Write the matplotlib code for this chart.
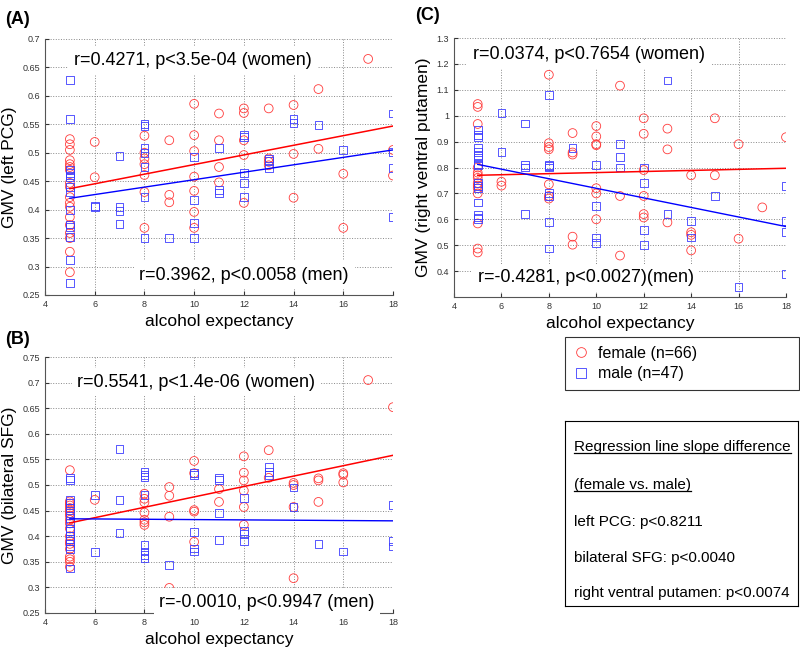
import numpy as np
import matplotlib
matplotlib.use("Agg")
import matplotlib.pyplot as plt
from matplotlib.lines import Line2D
from matplotlib.ticker import FormatStrFormatter

plt.rcParams['font.family'] = ['Liberation Sans', 'DejaVu Sans']

# GMV values grouped by alcohol expectancy score
a_female = {5: [0.524, 0.515, 0.505, 0.487, 0.48, 0.475, 0.47, 0.447, 0.44, 0.422, 0.412, 0.405,
                0.387, 0.373, 0.359, 0.35, 0.326, 0.29],
            6: [0.519, 0.457],
            8: [0.53, 0.5, 0.49, 0.48, 0.461, 0.431, 0.368],
            9: [0.522, 0.426, 0.413],
            10: [0.586, 0.531, 0.503, 0.458, 0.433, 0.396, 0.368],
            11: [0.569, 0.522, 0.475, 0.448],
            12: [0.578, 0.57, 0.522, 0.496, 0.412],
            13: [0.578, 0.49, 0.484, 0.478],
            14: [0.584, 0.498, 0.421],
            15: [0.612, 0.507],
            16: [0.463, 0.368],
            17: [0.665],
            18: [0.505, 0.46]}
a_male = {5: [0.628, 0.559, 0.47, 0.465, 0.46, 0.457, 0.44, 0.431, 0.40, 0.374, 0.37, 0.352, 0.312, 0.271],
          6: [0.407, 0.405],
          7: [0.494, 0.405, 0.398, 0.375],
          8: [0.55, 0.547, 0.508, 0.5, 0.475, 0.423, 0.35],
          9: [0.35],
          10: [0.493, 0.417, 0.376, 0.35],
          11: [0.508, 0.434, 0.429],
          12: [0.531, 0.527, 0.465, 0.447, 0.422],
          13: [0.49, 0.486, 0.473],
          14: [0.559, 0.552],
          15: [0.549],
          16: [0.505],
          18: [0.569, 0.502, 0.473, 0.387]}

b_female = {5: [0.529, 0.468, 0.464, 0.46, 0.455, 0.45, 0.445, 0.44, 0.432, 0.425, 0.415, 0.40,
                0.39, 0.385, 0.375, 0.36, 0.355, 0.35, 0.34],
            6: [0.471],
            8: [0.483, 0.473, 0.466, 0.446, 0.432, 0.427, 0.422],
            9: [0.496, 0.479, 0.438, 0.299],
            10: [0.547, 0.523, 0.451, 0.448, 0.389],
            11: [0.492, 0.467],
            12: [0.556, 0.524, 0.509, 0.489, 0.457, 0.422],
            13: [0.568, 0.514],
            14: [0.504, 0.5, 0.457, 0.318],
            15: [0.513, 0.509, 0.467],
            16: [0.523, 0.52, 0.505],
            17: [0.705],
            18: [0.652]}
b_male = {5: [0.514, 0.509, 0.47, 0.465, 0.455, 0.445, 0.435, 0.425, 0.415, 0.41, 0.40, 0.395,
              0.39, 0.38, 0.375, 0.337],
          6: [0.48, 0.369],
          7: [0.570, 0.471, 0.406],
          8: [0.525, 0.52, 0.516, 0.48, 0.383, 0.37, 0.363, 0.357],
          9: [0.344],
          10: [0.523, 0.52, 0.409, 0.376, 0.37],
          11: [0.514, 0.509, 0.445, 0.393],
          12: [0.474, 0.41, 0.404, 0.391],
          13: [0.535, 0.525, 0.52],
          14: [0.495, 0.457],
          15: [0.385],
          16: [0.37],
          18: [0.461, 0.39, 0.38]}

c_female = {5: [1.045, 1.034, 0.968, 0.80, 0.78, 0.77, 0.76, 0.74, 0.73, 0.72, 0.70, 0.584, 0.487, 0.472],
            6: [0.745, 0.73],
            8: [1.158, 0.894, 0.879, 0.87, 0.735, 0.69, 0.68],
            9: [0.933, 0.858, 0.85, 0.533, 0.502],
            10: [0.96, 0.92, 0.89, 0.886, 0.72, 0.70, 0.60],
            11: [1.116, 0.69, 0.46],
            12: [0.99, 0.93, 0.79, 0.69, 0.62, 0.607],
            13: [0.95, 0.87, 0.588],
            14: [0.77, 0.55, 0.54, 0.48],
            15: [0.99, 0.77],
            16: [0.89, 0.525],
            17: [0.646],
            18: [0.917]}
c_male = {5: [0.944, 0.925, 0.918, 0.874, 0.859, 0.848, 0.836, 0.815, 0.81, 0.74, 0.73, 0.72,
              0.665, 0.615, 0.607, 0.60],
          6: [1.01, 0.86],
          7: [0.97, 0.81, 0.80, 0.619],
          8: [1.08, 0.81, 0.805, 0.80, 0.70, 0.69, 0.588, 0.487],
          9: [0.874],
          10: [0.81, 0.65, 0.53, 0.51],
          11: [0.89, 0.84, 0.80],
          12: [0.80, 0.74, 0.56, 0.50],
          13: [1.136, 0.62],
          14: [0.595, 0.53],
          15: [0.69],
          16: [0.34],
          18: [0.73, 0.595, 0.55, 0.39]}

# regression line end values at x = 5 and x = 18
fit_x = [5, 18]
a_fit_f = [0.437, 0.547]
a_fit_m = [0.420, 0.505]
b_fit_f = [0.426, 0.558]
b_fit_m = [0.434, 0.430]
c_fit_f = [0.770, 0.797]
c_fit_m = [0.812, 0.572]

a_texts = ["r=0.4271, p<3.5e-04 (women)", "r=0.3962, p<0.0058 (men)"]
b_texts = ["r=0.5541, p<1.4e-06 (women)", "r=-0.0010, p<0.9947 (men)"]
c_texts = ["r=0.0374, p<0.7654 (women)", "r=-0.4281, p<0.0027)(men)"]

summary_lines = ["Regression line slope difference", "(female vs. male)",
                 "left PCG: p<0.8211", "bilateral SFG: p<0.0040",
                 "right ventral putamen: p<0.0074"]


def flat(d):
    xs, ys = [], []
    for k, vals in d.items():
        xs += [k] * len(vals)
        ys += vals
    return xs, ys


W, H = 800.0, 650.0
fig = plt.figure(figsize=(8, 6.5), dpi=100)


def panel(px, fem, mal, fit_f, fit_m, ylim, yticks, ylabel, texts, tpos):
    l, t, r, b = px
    ax = fig.add_axes([l / W, 1 - b / H, (r - l) / W, (b - t) / H])
    fx, fy = flat(fem)
    mx, my = flat(mal)
    ax.scatter(fx, fy, s=40, marker='o', facecolors='none', edgecolors='#ff3b3b', linewidths=0.6, zorder=3)
    ax.scatter(mx, my, s=32, marker='s', facecolors='none', edgecolors='#3b3bff', linewidths=0.6, zorder=3)
    ax.plot(fit_x, fit_f, color='red', lw=1.1, zorder=4)
    ax.plot(fit_x, fit_m, color='blue', lw=1.0, zorder=4)
    ax.set_xlim(4, 18)
    ax.set_ylim(*ylim)
    ax.set_xticks(range(4, 19, 2))
    ax.set_yticks(yticks)
    ax.yaxis.set_major_formatter(FormatStrFormatter('%g'))
    ax.tick_params(direction='in', length=3, labelsize=6.5, colors='#333333')
    ax.grid(True, ls=':', color='#888888', lw=0.7)
    ax.set_axisbelow(True)
    for s in ['top', 'right']:
        ax.spines[s].set_visible(False)
    for s in ['left', 'bottom']:
        ax.spines[s].set_color('#555555')
        ax.spines[s].set_linewidth(0.8)
    ax.set_xlabel("alcohol expectancy", fontsize=12.5, labelpad=4)
    ax.set_ylabel(ylabel, fontsize=12.5, labelpad=4)
    for txt, (tx, ty) in zip(texts, tpos):
        ax.text(tx, ty, txt, fontsize=13, ha='left', va='center', zorder=5,
                bbox=dict(facecolor='white', edgecolor='none', pad=4))
    return ax


panel((45, 39, 393, 295), a_female, a_male, a_fit_f, a_fit_m, (0.25, 0.7),
      np.arange(0.25, 0.701, 0.05), "GMV (left PCG)", a_texts, [(5.15, 0.663), (7.8, 0.285)])
panel((45, 357, 393, 613), b_female, b_male, b_fit_f, b_fit_m, (0.25, 0.75),
      np.arange(0.25, 0.751, 0.05), "GMV (bilateral SFG)", b_texts, [(5.3, 0.701), (8.6, 0.271)])
panel((454, 38, 786, 297), c_female, c_male, c_fit_f, c_fit_m, (0.3, 1.3),
      np.arange(0.4, 1.301, 0.1), "GMV (right ventral putamen)", c_texts, [(4.8, 1.236), (5.0, 0.374)])

fig.text(5 / W, 1 - 20 / H, "(A)", fontsize=13, fontweight='bold', va='center')
fig.text(5 / W, 1 - 340 / H, "(B)", fontsize=13, fontweight='bold', va='center')
fig.text(415 / W, 1 - 15 / H, "(C)", fontsize=13, fontweight='bold', va='center')

handles = [Line2D([], [], ls='none', marker='o', markersize=7, markerfacecolor='none',
                  markeredgecolor='#ff3b3b', markeredgewidth=0.6),
           Line2D([], [], ls='none', marker='s', markersize=6.5, markerfacecolor='none',
                  markeredgecolor='#3b3bff', markeredgewidth=0.6)]
leg = fig.legend(handles, ["female (n=66)", "male (n=47)"], loc='upper left',
                 bbox_to_anchor=(565 / W, 1 - 401 / H, 234 / W, 64 / H), mode='expand',
                 borderaxespad=0, fontsize=11.5, frameon=True, fancybox=False, edgecolor='black',
                 handlelength=0.9, handletextpad=0.6, borderpad=0.55, labelspacing=0.35)
leg.get_frame().set_linewidth(0.8)

box = fig.add_axes([565 / W, 1 - 606 / H, 233 / W, 185 / H])
box.set_xticks([])
box.set_yticks([])
for s in box.spines.values():
    s.set_color('black')
    s.set_linewidth(0.8)
ypos = [0.859, 0.654, 0.454, 0.259, 0.07]
txts = []
for line, yy in zip(summary_lines, ypos):
    txts.append(box.text(0.04, yy, line, fontsize=11, ha='left', va='center', transform=box.transAxes))

# underline the first two lines of the summary box
fig.canvas.draw()
r = fig.canvas.get_renderer()
for t in txts[:2]:
    bb = t.get_window_extent(renderer=r).transformed(fig.transFigure.inverted())
    fig.add_artist(Line2D([bb.x0, bb.x1], [bb.y0 + 0.001, bb.y0 + 0.001], color='black', lw=0.9,
                          transform=fig.transFigure))

fig.savefig("out.png", dpi=100)
